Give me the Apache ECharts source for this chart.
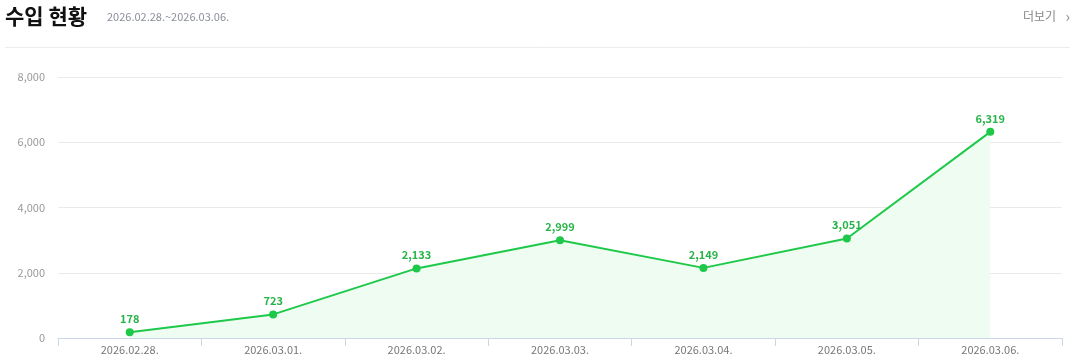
<!DOCTYPE html>
<html><head><meta charset="utf-8">
<script src="https://cdn.jsdelivr.net/npm/echarts@6/dist/echarts.min.js"></script>
<style>html,body{margin:0;padding:0;background:#fff}#c{width:1076px;height:360px}</style>
</head><body><div id="c"></div>
<script>
const categories = ['2026.02.28.','2026.03.01.','2026.03.02.','2026.03.03.','2026.03.04.','2026.03.05.','2026.03.06.'];
const values = [178, 723, 2133, 2999, 2149, 3051, 6319];
const yTicks = [0, 2000, 4000, 6000, 8000];
const title = '수입 현황';
const subtitle = '2026.02.28.~2026.03.06.';
const moreLabel = '더보기';

const chart = echarts.init(document.getElementById('c'));
const fontFam = '"Noto Sans CJK KR","Noto Sans",sans-serif';
chart.setOption({
  animation:false,
  grid:{left:58,right:14,top:77,bottom:22},
  graphic:[
    {type:'text',left:5,top:6,style:{text:title,font:'bold 21px '+fontFam,fill:'#111'}},
    {type:'text',left:107,top:11,style:{text:subtitle,font:'11px '+fontFam,fill:'#8a8f99'}},
    {type:'text',right:20,top:10,style:{text:moreLabel,font:'12px '+fontFam,fill:'#888'}},
    {type:'text',right:6,top:9,style:{text:'›',font:'15px '+fontFam,fill:'#888'}},
    {type:'line',shape:{x1:5,y1:47.5,x2:1070,y2:47.5},style:{stroke:'#ececec',lineWidth:1}}
  ],
  xAxis:{type:'category',data:categories,boundaryGap:true,
    axisLine:{lineStyle:{color:'#ccd6eb'}},
    axisTick:{show:true,length:8,lineStyle:{color:'#ccd6eb'}},
    axisLabel:{color:'#777',fontSize:11,fontFamily:fontFam,margin:6}},
  yAxis:{type:'value',min:yTicks[0],max:yTicks[yTicks.length-1],interval:2000,
    axisLine:{show:false},axisTick:{show:false},
    splitLine:{lineStyle:{color:'#eaeaea'}},
    axisLabel:{color:'#999',fontSize:11,fontFamily:fontFam,margin:13,
      formatter:v=>v.toLocaleString('en-US')}},
  series:[{type:'line',data:values,symbol:'circle',symbolSize:8,
    itemStyle:{color:'#1ec94a'},lineStyle:{color:'#1ec94a',width:2},
    areaStyle:{color:'#effcf1',opacity:1},
    label:{show:true,position:'top',distance:4,color:'#2ab34a',fontSize:11,fontWeight:'bold',fontFamily:fontFam,
      formatter:p=>p.value.toLocaleString('en-US')}}]
});
</script></body></html>
